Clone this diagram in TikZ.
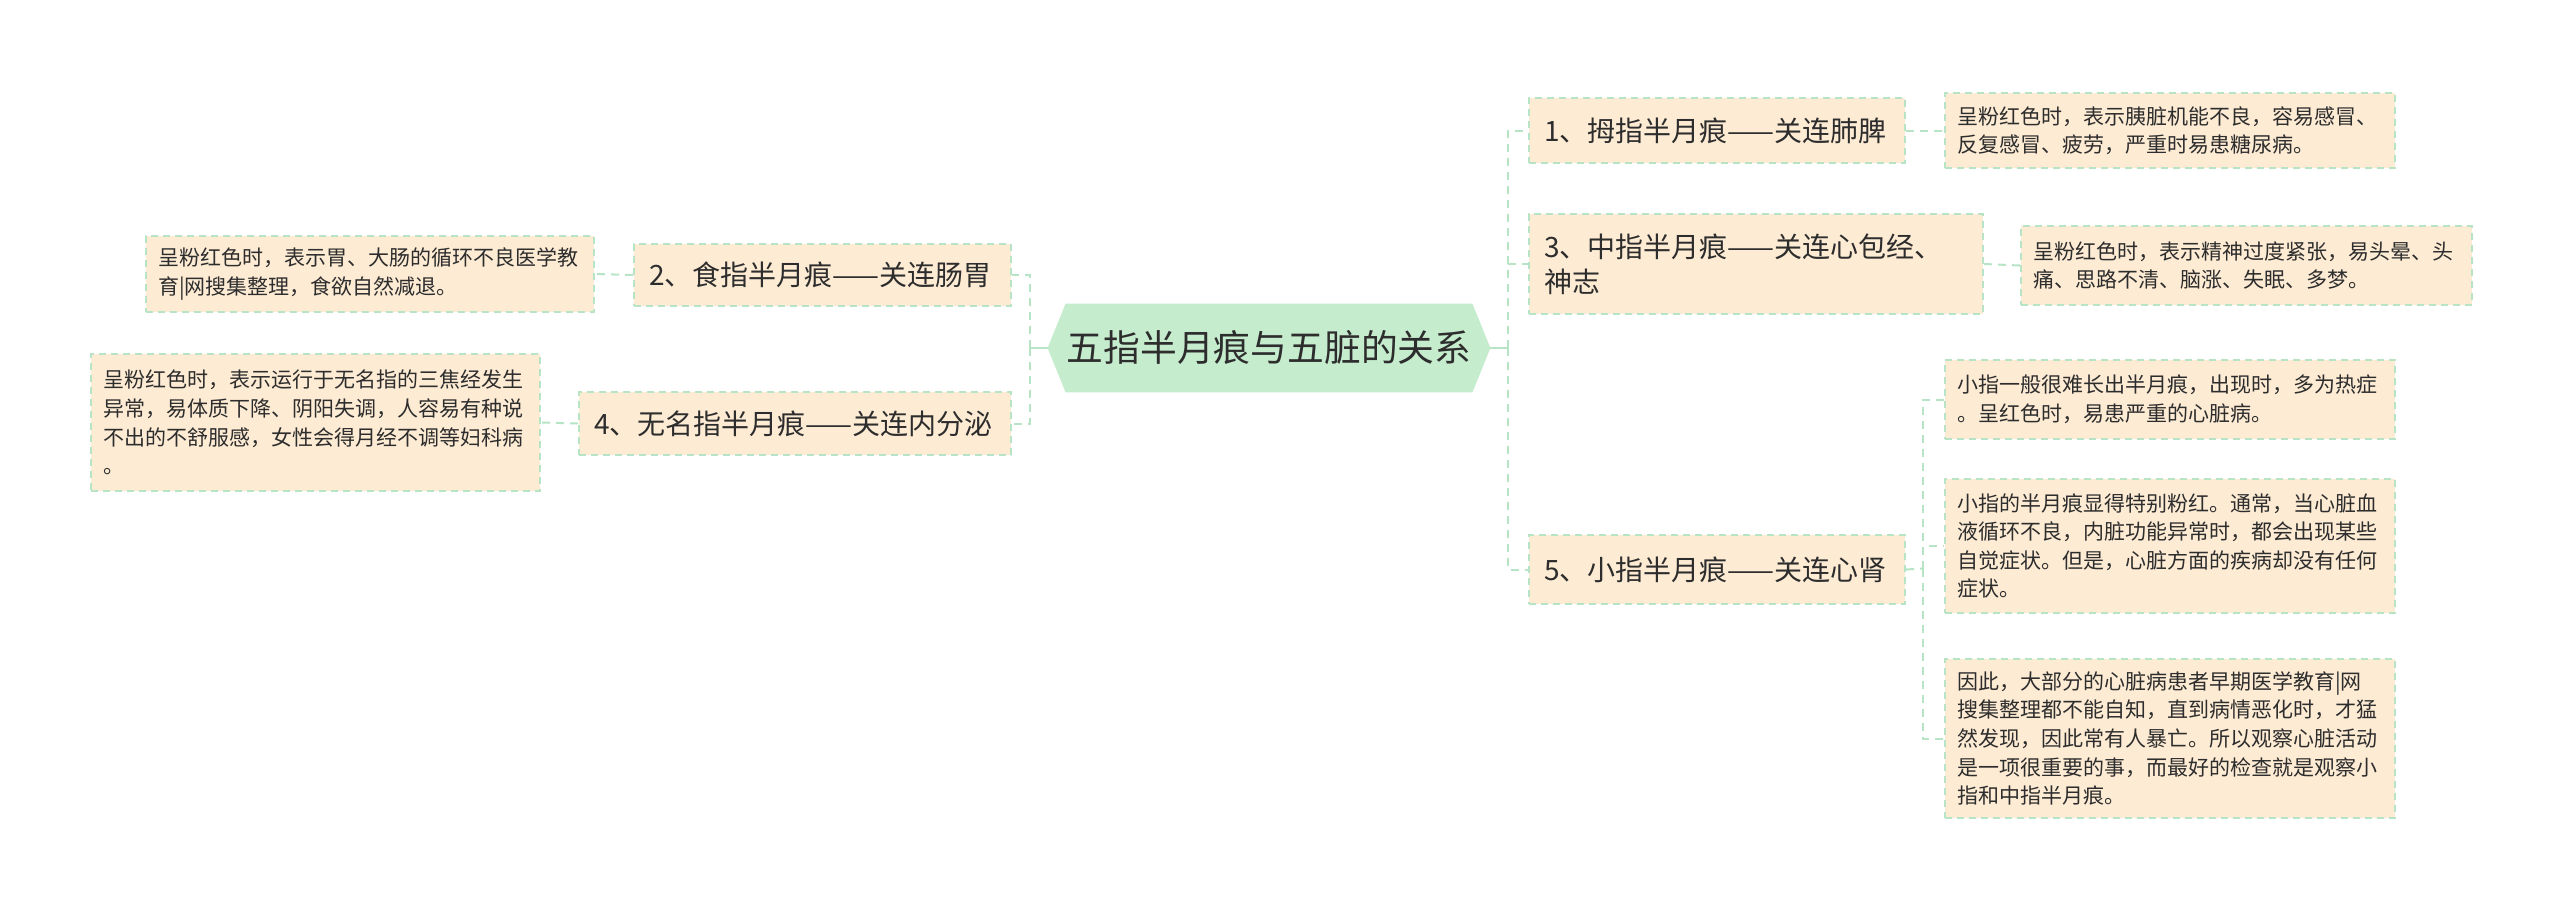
\documentclass[tikz,border=0pt]{standalone}
\usepackage{fontspec}
\newfontfamily\cjk{Noto Sans CJK SC}
\usetikzlibrary{backgrounds}
\definecolor{peach}{RGB}{253,235,212}
\definecolor{lineg}{RGB}{184,228,198}
\definecolor{rootg}{RGB}{198,236,206}
\definecolor{txt}{RGB}{45,45,45}
\tikzset{
  basebox/.style={draw=lineg, line width=1pt, dash pattern=on 3.5pt off 2.5pt, fill=peach,
    anchor=north west, align=left, text=txt, inner ysep=0pt},
  branch/.style={basebox, font=\cjk\fontsize{14pt}{17.5pt}\selectfont, inner xsep=7.5pt},
  desc/.style={basebox, font=\cjk\fontsize{10.5pt}{14.3pt}\selectfont, inner xsep=6pt},
  conn/.style={draw=lineg, line width=1pt, dash pattern=on 4pt off 3pt},
  trunk/.style={draw=lineg, line width=1.2pt},
}
\begin{document}
\begin{tikzpicture}[x=0.5pt,y=-0.5pt]
\useasboundingbox (0,0) rectangle (2560,907);
% root
\node[minimum width=203pt, minimum height=44pt, inner sep=0pt, text=txt,
  font=\cjk\fontsize{18.4pt}{22pt}\selectfont] (root) at (1269,348) {五指半月痕与五脏的关系};
\begin{scope}[on background layer]
\fill[white] (0,0) rectangle (2560,907);
\fill[rootg] ([xshift=-9pt]root.west) -- (root.north west) -- (root.north east)
  -- ([xshift=9pt]root.east) -- (root.south east) -- (root.south west) -- cycle;
\end{scope}
% right branches
\node[branch, minimum width=188pt, minimum height=32.5pt, text width=173pt] (n1) at (1528,97) {1、拇指半月痕——关连肺脾};
\node[branch, minimum width=227pt, minimum height=50pt, text width=212pt] (n3) at (1528,213) {3、中指半月痕——关连心包经、\\神志};
\node[branch, minimum width=188pt, minimum height=34.5pt, text width=173pt] (n5) at (1528,534) {5、小指半月痕——关连心肾};
% left branches
\node[branch, minimum width=188.5pt, minimum height=31pt, text width=173.5pt] (n2) at (633,243) {2、食指半月痕——关连肠胃};
\node[branch, minimum width=216pt, minimum height=31.5pt, text width=201pt] (n4) at (578,391) {4、无名指半月痕——关连内分泌};
% descriptions
\node[desc, minimum width=225pt, minimum height=37.5pt, text width=213pt] (d1) at (1944,92)
  {呈粉红色时，表示胰脏机能不良，容易感冒、\\反复感冒、疲劳，严重时易患糖尿病。};
\node[desc, minimum width=225.5pt, minimum height=39.5pt, text width=213.5pt] (d3) at (2020,225)
  {呈粉红色时，表示精神过度紧张，易头晕、头\\痛、思路不清、脑涨、失眠、多梦。};
\node[desc, minimum width=225pt, minimum height=39.5pt, text width=213pt] (d5a) at (1944,359)
  {小指一般很难长出半月痕，出现时，多为热症\\。呈红色时，易患严重的心脏病。};
\node[desc, minimum width=225pt, minimum height=67pt, text width=213pt] (d5b) at (1944,478)
  {小指的半月痕显得特别粉红。通常，当心脏血\\液循环不良，内脏功能异常时，都会出现某些\\自觉症状。但是，心脏方面的疾病却没有任何\\症状。};
\node[desc, minimum width=225pt, minimum height=79.5pt, text width=213pt] (d5c) at (1944,658)
  {因此，大部分的心脏病患者早期医学教育|网\\搜集整理都不能自知，直到病情恶化时，才猛\\然发现，因此常有人暴亡。所以观察心脏活动\\是一项很重要的事，而最好的检查就是观察小\\指和中指半月痕。};
\node[desc, minimum width=224pt, minimum height=38pt, text width=212pt] (d2) at (145,235)
  {呈粉红色时，表示胃、大肠的循环不良医学教\\育|网搜集整理，食欲自然减退。};
\node[desc, minimum width=224.5pt, minimum height=68.5pt, text width=212.5pt] (d4) at (90,353)
  {呈粉红色时，表示运行于无名指的三焦经发生\\异常，易体质下降、阴阳失调，人容易有种说\\不出的不舒服感，女性会得月经不调等妇科病\\。};
% connectors
\coordinate (rR) at ([xshift=9pt]root.east);
\coordinate (rL) at ([xshift=-9pt]root.west);
\coordinate (jR) at (1508,348);
\coordinate (jL) at (1030,348);
\coordinate (j5) at (1923,568.5);
\draw[trunk] (rR) -- (jR);
\draw[trunk] (rL) -- (jL);
\draw[conn] (jR) |- (n1.west);
\draw[conn] (jR) |- (n3.west);
\draw[conn] (jR) |- (n5.west);
\draw[conn] (jL) |- (n2.east);
\draw[conn] (jL) |- (n4.east);
\draw[conn] (n1.east) -- (d1.west);
\draw[conn] (n3.east) -- (d3.west);
\draw[conn] (n2.west) -- (d2.east);
\draw[conn] (n4.west) -- (d4.east);
\draw[conn] (n5.east) -- (j5);
\draw[conn] (j5) |- (d5a.west);
\draw[conn] (j5) |- (d5b.west);
\draw[conn] (j5) |- (d5c.west);
\end{tikzpicture}
\end{document}
